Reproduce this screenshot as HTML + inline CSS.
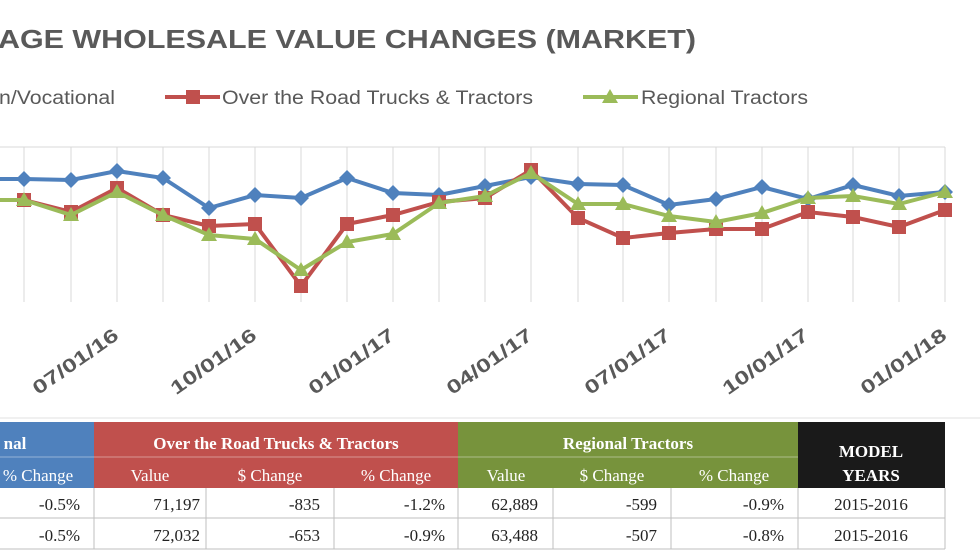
<!DOCTYPE html>
<html><head><meta charset="utf-8"><style>
html,body{margin:0;padding:0;background:#fff;}
svg{display:block;font-family:"Liberation Sans",sans-serif;}
</style></head><body>
<svg width="980" height="552" viewBox="0 0 980 552" xmlns="http://www.w3.org/2000/svg">
<rect width="980" height="552" fill="#fff"/>
<text x="-2" y="48" font-size="26" font-weight="bold" fill="#595959" textLength="698" lengthAdjust="spacingAndGlyphs">AGE WHOLESALE VALUE CHANGES (MARKET)</text>
<g font-size="19" fill="#595959">
<text x="-1" y="104" textLength="116" lengthAdjust="spacingAndGlyphs">n/Vocational</text>
<line x1="165" y1="97" x2="220" y2="97" stroke="#c0504d" stroke-width="4"/>
<rect x="186" y="90" width="14" height="14" fill="#c0504d"/>
<text x="222" y="104" textLength="311" lengthAdjust="spacingAndGlyphs">Over the Road Trucks &amp; Tractors</text>
<line x1="583" y1="97" x2="638" y2="97" stroke="#9bbb59" stroke-width="4"/>
<polygon points="610,89 618,103 602,103" fill="#9bbb59"/>
<text x="641" y="104" textLength="167" lengthAdjust="spacingAndGlyphs">Regional Tractors</text>
</g>
<line x1="0" y1="147" x2="945" y2="147" stroke="#d9d9d9"/>
<g stroke="#d9d9d9" stroke-width="1">
<line x1="24" y1="147" x2="24" y2="302"/><line x1="71" y1="147" x2="71" y2="302"/><line x1="117" y1="147" x2="117" y2="302"/><line x1="163" y1="147" x2="163" y2="302"/><line x1="209" y1="147" x2="209" y2="302"/><line x1="255" y1="147" x2="255" y2="302"/><line x1="301" y1="147" x2="301" y2="302"/><line x1="347" y1="147" x2="347" y2="302"/><line x1="393" y1="147" x2="393" y2="302"/><line x1="439" y1="147" x2="439" y2="302"/><line x1="485" y1="147" x2="485" y2="302"/><line x1="531" y1="147" x2="531" y2="302"/><line x1="578" y1="147" x2="578" y2="302"/><line x1="623" y1="147" x2="623" y2="302"/><line x1="669" y1="147" x2="669" y2="302"/><line x1="716" y1="147" x2="716" y2="302"/><line x1="762" y1="147" x2="762" y2="302"/><line x1="808" y1="147" x2="808" y2="302"/><line x1="853" y1="147" x2="853" y2="302"/><line x1="899" y1="147" x2="899" y2="302"/><line x1="945" y1="147" x2="945" y2="302"/>
</g>
<polyline fill="none" stroke="#4f81bd" stroke-width="4" points="0,179 24,179 71,180 117,171 163,178 209,208 255,195 301,198 347,178 393,193 439,195 485,186 531,177 578,184 623,185 669,205 716,199 762,187 808,199 853,185 899,196 945,192"/>
<g fill="#4f81bd">
<path d="M24,171l8,8-8,8-8-8z"/><path d="M71,172l8,8-8,8-8-8z"/><path d="M117,163l8,8-8,8-8-8z"/><path d="M163,170l8,8-8,8-8-8z"/><path d="M209,200l8,8-8,8-8-8z"/><path d="M255,187l8,8-8,8-8-8z"/><path d="M301,190l8,8-8,8-8-8z"/><path d="M347,170l8,8-8,8-8-8z"/><path d="M393,185l8,8-8,8-8-8z"/><path d="M439,187l8,8-8,8-8-8z"/><path d="M485,178l8,8-8,8-8-8z"/><path d="M531,169l8,8-8,8-8-8z"/><path d="M578,176l8,8-8,8-8-8z"/><path d="M623,177l8,8-8,8-8-8z"/><path d="M669,197l8,8-8,8-8-8z"/><path d="M716,191l8,8-8,8-8-8z"/><path d="M762,179l8,8-8,8-8-8z"/><path d="M808,191l8,8-8,8-8-8z"/><path d="M853,177l8,8-8,8-8-8z"/><path d="M899,188l8,8-8,8-8-8z"/><path d="M945,184l8,8-8,8-8-8z"/>
</g>
<polyline fill="none" stroke="#c0504d" stroke-width="4" points="0,200 24,200 71,212 117,188 163,215 209,226 255,224 301,286 347,224 393,215 439,202 485,198 531,170 578,218 623,238 669,233 716,229 762,229 808,212 853,217 899,227 945,210"/>
<g fill="#c0504d">
<rect x="17" y="193" width="14" height="14"/><rect x="64" y="205" width="14" height="14"/><rect x="110" y="181" width="14" height="14"/><rect x="156" y="208" width="14" height="14"/><rect x="202" y="219" width="14" height="14"/><rect x="248" y="217" width="14" height="14"/><rect x="294" y="279" width="14" height="14"/><rect x="340" y="217" width="14" height="14"/><rect x="386" y="208" width="14" height="14"/><rect x="432" y="195" width="14" height="14"/><rect x="478" y="191" width="14" height="14"/><rect x="524" y="163" width="14" height="14"/><rect x="571" y="211" width="14" height="14"/><rect x="616" y="231" width="14" height="14"/><rect x="662" y="226" width="14" height="14"/><rect x="709" y="222" width="14" height="14"/><rect x="755" y="222" width="14" height="14"/><rect x="801" y="205" width="14" height="14"/><rect x="846" y="210" width="14" height="14"/><rect x="892" y="220" width="14" height="14"/><rect x="938" y="203" width="14" height="14"/>
</g>
<polyline fill="none" stroke="#9bbb59" stroke-width="4" points="0,200 24,200 71,215 117,192 163,215 209,235 255,239 301,270 347,242 393,234 439,203 485,196 531,173 578,204 623,204 669,216 716,222 762,213 808,198 853,196 899,204 945,192"/>
<g fill="#9bbb59">
<path d="M24,192l8,14h-16z"/><path d="M71,207l8,14h-16z"/><path d="M117,184l8,14h-16z"/><path d="M163,207l8,14h-16z"/><path d="M209,227l8,14h-16z"/><path d="M255,231l8,14h-16z"/><path d="M301,262l8,14h-16z"/><path d="M347,234l8,14h-16z"/><path d="M393,226l8,14h-16z"/><path d="M439,195l8,14h-16z"/><path d="M485,188l8,14h-16z"/><path d="M531,165l8,14h-16z"/><path d="M578,196l8,14h-16z"/><path d="M623,196l8,14h-16z"/><path d="M669,208l8,14h-16z"/><path d="M716,214l8,14h-16z"/><path d="M762,205l8,14h-16z"/><path d="M808,190l8,14h-16z"/><path d="M853,188l8,14h-16z"/><path d="M899,196l8,14h-16z"/><path d="M945,184l8,14h-16z"/>
</g>
<g font-size="19" font-weight="bold" fill="#595959" text-anchor="end">
<text transform="translate(120,338) rotate(-35)" textLength="100" lengthAdjust="spacingAndGlyphs">07/01/16</text>
<text transform="translate(258,338) rotate(-35)" textLength="100" lengthAdjust="spacingAndGlyphs">10/01/16</text>
<text transform="translate(396,338) rotate(-35)" textLength="100" lengthAdjust="spacingAndGlyphs">01/01/17</text>
<text transform="translate(534,338) rotate(-35)" textLength="100" lengthAdjust="spacingAndGlyphs">04/01/17</text>
<text transform="translate(672,338) rotate(-35)" textLength="100" lengthAdjust="spacingAndGlyphs">07/01/17</text>
<text transform="translate(810,338) rotate(-35)" textLength="100" lengthAdjust="spacingAndGlyphs">10/01/17</text>
<text transform="translate(948,338) rotate(-35)" textLength="100" lengthAdjust="spacingAndGlyphs">01/01/18</text>
</g>
<line x1="0" y1="418" x2="980" y2="418" stroke="#e0e0e0"/>
<rect x="0" y="422" width="94" height="66" fill="#4f81bd"/>
<rect x="94" y="422" width="364" height="66" fill="#c0504d"/>
<rect x="458" y="422" width="340" height="66" fill="#77933c"/>
<rect x="798" y="422" width="147" height="66" fill="#1a1a1a"/>
<line x1="0" y1="457" x2="798" y2="457" stroke="#ffffff" stroke-opacity="0.4"/>
<g font-family="Liberation Serif,serif" font-size="17" font-weight="bold" fill="#fff" text-anchor="middle">
<text x="15" y="449">nal</text>
<text x="276" y="449">Over the Road Trucks &amp; Tractors</text>
<text x="628" y="449">Regional Tractors</text>
<text x="871" y="457">MODEL</text>
<text x="871" y="481">YEARS</text>
</g>
<g font-family="Liberation Serif,serif" font-size="17" fill="#fff" text-anchor="middle">
<text x="38" y="481">% Change</text>
<text x="150" y="481">Value</text>
<text x="270" y="481">$ Change</text>
<text x="396" y="481">% Change</text>
<text x="506" y="481">Value</text>
<text x="612" y="481">$ Change</text>
<text x="734" y="481">% Change</text>
</g>
<g stroke="#bfbfbf" stroke-width="1" fill="none">
<line x1="0" y1="518" x2="945" y2="518"/><line x1="0" y1="549" x2="945" y2="549"/>
<line x1="94" y1="488" x2="94" y2="549"/><line x1="206" y1="488" x2="206" y2="549"/><line x1="334" y1="488" x2="334" y2="549"/><line x1="458" y1="488" x2="458" y2="549"/><line x1="553" y1="488" x2="553" y2="549"/><line x1="671" y1="488" x2="671" y2="549"/><line x1="798" y1="488" x2="798" y2="549"/><line x1="945" y1="488" x2="945" y2="549"/>
</g>
<g font-family="Liberation Serif,serif" font-size="17" fill="#222">
<g text-anchor="end">
<text x="80" y="510">-0.5%</text><text x="80" y="541">-0.5%</text>
<text x="200" y="510">71,197</text><text x="200" y="541">72,032</text>
<text x="320" y="510">-835</text><text x="320" y="541">-653</text>
<text x="445" y="510">-1.2%</text><text x="445" y="541">-0.9%</text>
<text x="538" y="510">62,889</text><text x="538" y="541">63,488</text>
<text x="657" y="510">-599</text><text x="657" y="541">-507</text>
<text x="784" y="510">-0.9%</text><text x="784" y="541">-0.8%</text>
</g>
<g text-anchor="middle">
<text x="871" y="510">2015-2016</text><text x="871" y="541">2015-2016</text>
</g>
</g>
</svg>
</body></html>
